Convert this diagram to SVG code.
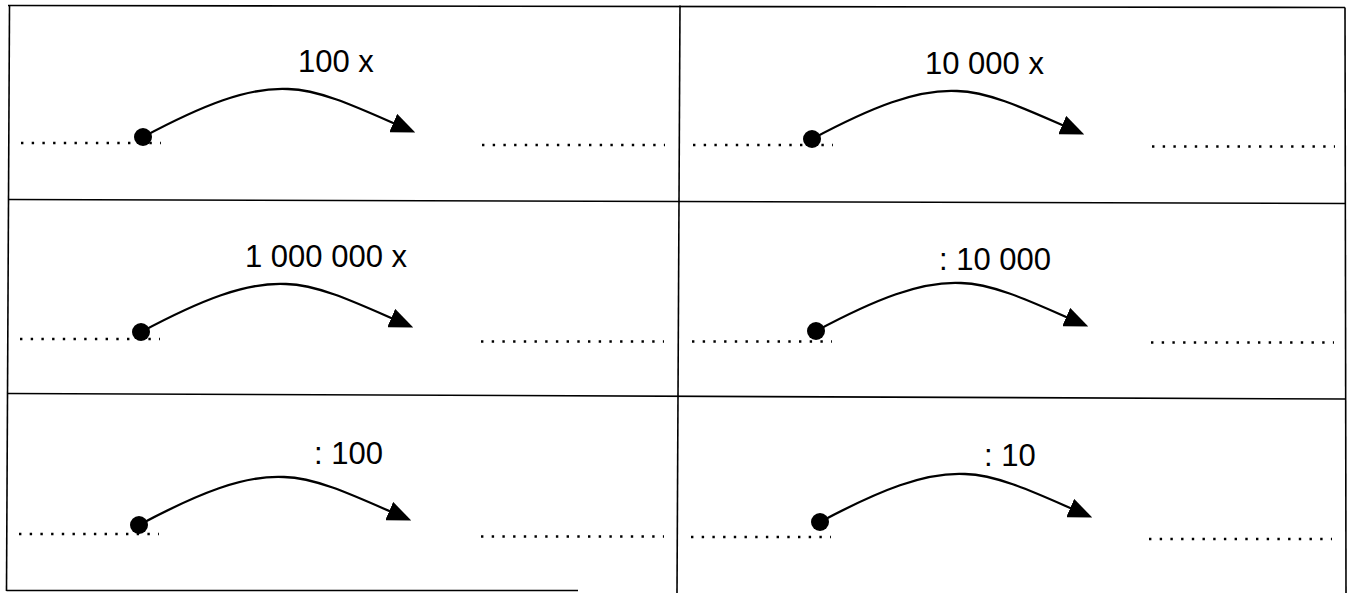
<svg xmlns="http://www.w3.org/2000/svg" xmlns:xlink="http://www.w3.org/1999/xlink" width="1347" height="593" viewBox="0 0 1347 593">
<style>
.frame{stroke:#000;stroke-width:1.6;fill:none}
.dots{stroke:#000;stroke-width:2.4;stroke-dasharray:2.4 8.3;fill:none}
.lbl{font-family:"Liberation Sans",Arial,sans-serif;font-size:31px;fill:#000}
.arc{stroke:#000;stroke-width:2.3;fill:none}
</style>
<defs>
<marker id="ah" markerUnits="userSpaceOnUse" viewBox="0 0 24 20" markerWidth="24" markerHeight="20" refX="15" refY="10" orient="auto">
<path d="M0,0 L24,10 L0,20 z" fill="#000"/>
</marker>
<g id="arcT">
<path class="arc" d="M0,0 C60,-32 105,-50 145,-48 C180,-47 220,-27 264,-8" marker-end="url(#ah)"/>
<circle cx="0" cy="0" r="9" fill="#000"/>
</g>
</defs>
<rect width="1347" height="593" fill="#fff"/>
<g id="frame">
<line class="frame" x1="8" y1="5.5" x2="1345" y2="7.5"/>
<line class="frame" x1="9.5" y1="5.5" x2="6.5" y2="591"/>
<line class="frame" x1="1345" y1="7.5" x2="1346" y2="593"/>
<line class="frame" x1="680" y1="5.5" x2="677" y2="593"/>
<line class="frame" x1="8" y1="199.5" x2="1345" y2="203.5"/>
<line class="frame" x1="7" y1="393.5" x2="1346" y2="399"/>
<line class="frame" x1="6.5" y1="590.5" x2="578" y2="590.5"/>
</g>
<g id="cell-r1-left">
<text class="lbl" x="298" y="72">100 x</text>
<line class="dots" x1="21" y1="143" x2="161" y2="143"/>
<line class="dots" x1="482" y1="145" x2="665" y2="145"/>
</g>
<g id="cell-r1-right">
<text class="lbl" x="925" y="74">10 000 x</text>
<line class="dots" x1="693" y1="145" x2="833" y2="145"/>
<line class="dots" x1="1152" y1="146.5" x2="1335" y2="146.5"/>
</g>
<g id="cell-r2-left">
<text class="lbl" x="245" y="267">1 000 000 x</text>
<line class="dots" x1="20" y1="339" x2="160" y2="339"/>
<line class="dots" x1="481" y1="341.5" x2="664" y2="341.5"/>
</g>
<g id="cell-r2-right">
<text class="lbl" x="939" y="270">: 10 000</text>
<line class="dots" x1="692" y1="341.5" x2="832" y2="341.5"/>
<line class="dots" x1="1151" y1="342.5" x2="1334" y2="342.5"/>
</g>
<g id="cell-r3-left">
<text class="lbl" x="314" y="464">: 100</text>
<line class="dots" x1="19" y1="534" x2="159" y2="534"/>
<line class="dots" x1="481" y1="536.5" x2="664" y2="536.5"/>
</g>
<g id="cell-r3-right">
<text class="lbl" x="984" y="466">: 10</text>
<line class="dots" x1="691" y1="537" x2="831" y2="537"/>
<line class="dots" x1="1149" y1="539" x2="1332" y2="539"/>
</g>
<g id="connectors">
<use xlink:href="#arcT" x="143" y="137"/>
<use xlink:href="#arcT" x="812" y="139"/>
<use xlink:href="#arcT" x="141" y="332"/>
<use xlink:href="#arcT" x="816" y="331"/>
<use xlink:href="#arcT" x="139" y="525"/>
<use xlink:href="#arcT" x="820" y="522"/>
</g>
</svg>
